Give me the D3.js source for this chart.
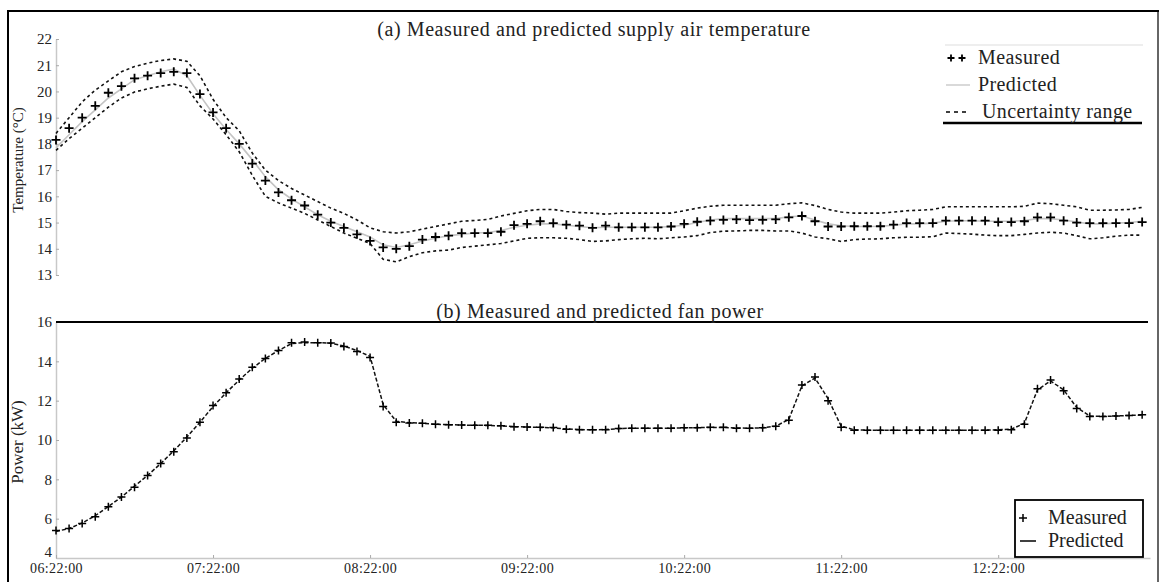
<!DOCTYPE html>
<html>
<head>
<meta charset="utf-8">
<script src="https://cdn.jsdelivr.net/npm/d3@7"></script>
<style>
  body { margin: 0; background: #fff; }
  svg text { font-family: "Liberation Serif", "DejaVu Serif", serif; fill: #222; }
</style>
</head>
<body>
<div id="chart"></div>
<script>
// Sample times (minutes after 06:22:00, one sample every 5 min)
const minutes = d3.range(0, 420, 5);

const tickMinutes = [0, 60, 120, 180, 240, 300, 360];
const tickLabels = ["06:22:00", "07:22:00", "08:22:00", "09:22:00", "10:22:00", "11:22:00", "12:22:00"];

const tempTicks = [13, 14, 15, 16, 17, 18, 19, 20, 21, 22];
const powerTicks = [4, 6, 8, 10, 12, 14, 16];

// (a) supply air temperature, degC
const tempMeasured = [
  18.15, 18.6, 19.0, 19.45, 19.95, 20.2, 20.5, 20.6, 20.7, 20.75,
  20.7, 19.9, 19.2, 18.6, 18.0, 17.25, 16.6, 16.15, 15.85, 15.65,
  15.3, 15.0, 14.8, 14.55, 14.3, 14.05, 14.0, 14.1, 14.35, 14.45,
  14.5, 14.6, 14.6, 14.6, 14.65, 14.9, 14.95, 15.05, 14.98, 14.92,
  14.88, 14.8, 14.88, 14.82, 14.82, 14.82, 14.82, 14.85, 14.95, 15.03,
  15.07, 15.1, 15.12, 15.09, 15.1, 15.12, 15.2, 15.25, 15.05, 14.85,
  14.85, 14.86, 14.86, 14.86, 14.92, 14.98, 14.98, 14.98, 15.07, 15.07,
  15.07, 15.07, 15.02, 15.02, 15.05, 15.2, 15.2, 15.07, 15.0, 14.98,
  14.98, 14.98, 14.98, 15.02
];
const tempPredicted = [
  17.85, 18.35, 18.85, 19.3, 19.75, 20.1, 20.45, 20.6, 20.75, 20.85,
  20.6, 19.85, 19.15, 18.55, 18.0, 17.4, 16.75, 16.25, 15.9, 15.6,
  15.3, 15.05, 14.85, 14.65, 14.45, 14.15, 14.05, 14.15, 14.3, 14.4,
  14.5, 14.55, 14.6, 14.62, 14.7, 14.82, 14.9, 14.95, 14.95, 14.9,
  14.85, 14.8, 14.82, 14.82, 14.82, 14.82, 14.82, 14.85, 14.9, 15.0,
  15.1, 15.15, 15.15, 15.15, 15.15, 15.15, 15.22, 15.25, 15.1, 14.95,
  14.88, 14.85, 14.85, 14.86, 14.9, 14.95, 14.95, 14.98, 15.05, 15.07,
  15.07, 15.05, 15.05, 15.05, 15.08, 15.15, 15.15, 15.1, 15.02, 14.95,
  14.95, 14.98, 15.0, 15.05
];
const tempUpper = [
  18.4, 19.0, 19.6, 20.05, 20.4, 20.75, 20.95, 21.08, 21.18, 21.24,
  21.15, 20.6, 19.7, 19.0, 18.5, 17.65, 17.0, 16.6, 16.3, 16.05,
  15.8, 15.55, 15.35, 15.1, 14.8, 14.65, 14.6, 14.65, 14.75, 14.85,
  14.95, 15.05, 15.08, 15.12, 15.25, 15.35, 15.45, 15.5, 15.5, 15.42,
  15.38, 15.36, 15.32, 15.36, 15.36, 15.36, 15.36, 15.36, 15.45, 15.55,
  15.62, 15.66, 15.66, 15.66, 15.66, 15.66, 15.72, 15.75, 15.65, 15.5,
  15.4, 15.36, 15.36, 15.36, 15.4, 15.45, 15.47, 15.5, 15.6, 15.6,
  15.6, 15.6, 15.6, 15.6, 15.62, 15.74, 15.72, 15.66, 15.6, 15.47,
  15.47, 15.48, 15.5, 15.58
];
const tempLower = [
  17.75, 18.2, 18.6, 19.0, 19.4, 19.75, 19.98, 20.1, 20.2, 20.28,
  20.15, 19.45, 18.95, 18.35, 17.7, 16.8, 16.0, 15.75, 15.55, 15.35,
  15.1, 14.85, 14.6, 14.4, 14.2, 13.6, 13.5, 13.7, 13.85, 13.92,
  13.95, 14.05, 14.1, 14.15, 14.2, 14.3, 14.4, 14.42, 14.42, 14.4,
  14.35, 14.28, 14.3, 14.35, 14.38, 14.4, 14.38, 14.42, 14.45, 14.5,
  14.62, 14.67, 14.68, 14.7, 14.7, 14.68, 14.68, 14.6, 14.45, 14.38,
  14.28, 14.35, 14.37, 14.38, 14.42, 14.44, 14.44, 14.46, 14.6, 14.58,
  14.56, 14.52, 14.5, 14.5, 14.55, 14.6, 14.63, 14.6, 14.5, 14.38,
  14.42, 14.48, 14.52, 14.52
];

// (b) fan power, kW
const powerMeasured = [
  5.4, 5.5, 5.75, 6.1, 6.6, 7.1, 7.6, 8.2, 8.8, 9.4,
  10.1, 10.9, 11.75, 12.4, 13.1, 13.7, 14.15, 14.55, 14.95, 14.98,
  14.95, 14.93, 14.75, 14.5, 14.2, 11.7, 10.9, 10.87, 10.85, 10.8,
  10.78, 10.76, 10.75, 10.75, 10.72, 10.68, 10.66, 10.65, 10.63, 10.55,
  10.52, 10.52, 10.52, 10.58, 10.6, 10.6, 10.6, 10.6, 10.62, 10.62,
  10.65, 10.65, 10.6, 10.6, 10.62, 10.7, 11.0, 12.8, 13.2, 12.0,
  10.65, 10.5, 10.5, 10.5, 10.5, 10.5, 10.5, 10.5, 10.5, 10.5,
  10.5, 10.5, 10.5, 10.52, 10.8, 12.6, 13.05, 12.5, 11.6, 11.2,
  11.2, 11.22, 11.25, 11.28
];
const powerPredicted = [
  5.35, 5.5, 5.78, 6.15, 6.62, 7.1, 7.65, 8.2, 8.8, 9.45,
  10.15, 10.9, 11.7, 12.4, 13.05, 13.65, 14.15, 14.55, 14.9, 14.95,
  14.95, 14.92, 14.78, 14.55, 14.25, 11.8, 10.95, 10.88, 10.85, 10.8,
  10.78, 10.76, 10.75, 10.74, 10.72, 10.68, 10.66, 10.64, 10.62, 10.56,
  10.53, 10.52, 10.53, 10.58, 10.6, 10.6, 10.6, 10.6, 10.62, 10.63,
  10.64, 10.64, 10.61, 10.6, 10.62, 10.7, 11.05, 12.75, 13.15, 12.1,
  10.7, 10.52, 10.5, 10.5, 10.5, 10.5, 10.5, 10.5, 10.5, 10.5,
  10.5, 10.5, 10.52, 10.55, 10.85, 12.55, 13.0, 12.55, 11.65, 11.22,
  11.2, 11.22, 11.25, 11.27
];

// Dimensions
const width = 1163, height = 582;

const svg = d3.select("#chart")
  .append("svg")
  .attr("width", width)
  .attr("height", height);

// outer frame
svg.append("path")
  .attr("d", "M8,600V11H1158V600")
  .attr("fill", "none")
  .attr("stroke", "#000")
  .attr("stroke-width", 2);
svg.append("line")
  .attr("x1", 1158).attr("x2", 1158).attr("y1", 12).attr("y2", 600)
  .attr("stroke", "#888").attr("stroke-width", 1.5);

// Scales
const x = d3.scaleLinear().domain([0, 418]).range([56, 1150]);
const yT = d3.scaleLinear().domain([13, 22]).range([275, 39]);
const yP = d3.scaleLinear().domain([4, 16]).range([558, 322]);

const plus = s => `M${-s},0H${s}M0,${-s}V${s}`;

function styleAxis(g) {
  g.select(".domain").attr("stroke", "#c8c8c8").attr("stroke-width", 1.5);
  g.selectAll(".tick line").attr("stroke", "#aaa");
  g.selectAll(".tick text").attr("fill", "#333").style("font-size", "15px");
}

// ---------- (a) temperature ----------
svg.append("g")
  .attr("transform", `translate(${x(0)},0)`)
  .call(d3.axisLeft(yT).tickValues(tempTicks).tickFormat(d3.format("d"))
    .tickSizeInner(-3).tickSizeOuter(0).tickPadding(4))
  .call(styleAxis);

svg.append("text")
  .attr("transform", "translate(23,160) rotate(-90)")
  .attr("text-anchor", "middle")
  .style("font-size", "15px")
  .text("Temperature (°C)");

svg.append("text")
  .attr("x", 594).attr("y", 36)
  .attr("text-anchor", "middle")
  .style("font-size", "20px")
  .style("letter-spacing", "0.6px")
  .text("(a) Measured and predicted supply air temperature");

const lineT = data => d3.line()
  .x((d, i) => x(minutes[i]))
  .y(d => yT(d))(data);

svg.append("path")
  .attr("d", lineT(tempPredicted))
  .attr("fill", "none")
  .attr("stroke", "#c4c4c4")
  .attr("stroke-width", 1.6);

[tempUpper, tempLower].forEach(s => {
  svg.append("path")
    .attr("d", lineT(s))
    .attr("fill", "none")
    .attr("stroke", "#111")
    .attr("stroke-width", 1.6)
    .attr("stroke-dasharray", "3,3");
});

svg.append("g")
  .selectAll("path")
  .data(tempMeasured)
  .enter()
  .append("path")
  .attr("transform", (d, i) => `translate(${x(minutes[i])},${yT(d)})`)
  .attr("d", plus(4.5))
  .attr("stroke", "#000")
  .attr("stroke-width", 1.8);

// legend (a)
const legA = svg.append("g");
legA.append("line").attr("x1", 945).attr("x2", 1143).attr("y1", 45).attr("y2", 45)
  .attr("stroke", "#ddd").attr("stroke-width", 1.2);
legA.append("line").attr("x1", 943).attr("x2", 1142).attr("y1", 123).attr("y2", 123)
  .attr("stroke", "#000").attr("stroke-width", 2.5);
[951, 962].forEach(px => {
  legA.append("path").attr("transform", `translate(${px},58)`).attr("d", plus(3.5))
    .attr("stroke", "#000").attr("stroke-width", 1.8);
});
legA.append("line").attr("x1", 946).attr("x2", 970).attr("y1", 85).attr("y2", 85)
  .attr("stroke", "#ccc").attr("stroke-width", 1.5);
legA.append("line").attr("x1", 946).attr("x2", 966).attr("y1", 112).attr("y2", 112)
  .attr("stroke", "#000").attr("stroke-width", 1.6).attr("stroke-dasharray", "4,4");
const legAText = ["Measured", "Predicted", "Uncertainty range"];
legA.selectAll("text")
  .data(legAText)
  .enter()
  .append("text")
  .attr("x", (d, i) => i === 2 ? 982 : 978)
  .attr("y", (d, i) => 64 + i * 27)
  .style("font-size", "20px")
  .style("letter-spacing", "0.4px")
  .text(d => d);

// ---------- (b) fan power ----------
svg.append("g")
  .attr("transform", `translate(${x(0)},0)`)
  .call(d3.axisLeft(yP).tickValues(powerTicks).tickFormat(d3.format("d"))
    .tickSizeInner(-3).tickSizeOuter(0).tickPadding(4))
  .call(styleAxis)
  .call(g => g.selectAll(".tick text").filter(d => d === 4).attr("dy", "-0.1em"));

svg.append("g")
  .attr("transform", `translate(0,${yP(4)})`)
  .call(d3.axisBottom(x).tickValues(tickMinutes).tickFormat((d, i) => tickLabels[i])
    .tickSizeInner(-3).tickSizeOuter(0).tickPadding(5))
  .call(styleAxis)
  .call(g => g.selectAll(".tick text").style("font-size", "14px").style("letter-spacing", "0.4px"));

svg.append("line")
  .attr("x1", x(0)).attr("x2", 1148)
  .attr("y1", yP(16)).attr("y2", yP(16))
  .attr("stroke", "#000").attr("stroke-width", 2);

svg.append("text")
  .attr("transform", "translate(23,442) rotate(-90)")
  .attr("text-anchor", "middle")
  .style("font-size", "17px")
  .text("Power (kW)");

svg.append("text")
  .attr("x", 600).attr("y", 318)
  .attr("text-anchor", "middle")
  .style("font-size", "20px")
  .style("letter-spacing", "0.6px")
  .text("(b) Measured and predicted fan power");

svg.append("path")
  .attr("d", d3.line().x((d, i) => x(minutes[i])).y(d => yP(d))(powerPredicted))
  .attr("fill", "none")
  .attr("stroke", "#111")
  .attr("stroke-width", 1.5)
  .attr("stroke-dasharray", "4,2");

svg.append("g")
  .selectAll("path")
  .data(powerMeasured)
  .enter()
  .append("path")
  .attr("transform", (d, i) => `translate(${x(minutes[i])},${yP(d)})`)
  .attr("d", plus(4))
  .attr("stroke", "#000")
  .attr("stroke-width", 1.5);

// legend (b)
const legB = svg.append("g");
legB.append("rect")
  .attr("x", 1015).attr("y", 500).attr("width", 128).attr("height", 57)
  .attr("fill", "#fff").attr("stroke", "#000").attr("stroke-width", 1.8);
legB.append("path").attr("transform", "translate(1023,518)").attr("d", plus(4))
  .attr("stroke", "#000").attr("stroke-width", 1.5);
legB.append("line").attr("x1", 1020).attr("x2", 1036).attr("y1", 541).attr("y2", 541)
  .attr("stroke", "#000").attr("stroke-width", 1.5);
const legBText = ["Measured", "Predicted"];
legB.selectAll("text")
  .data(legBText)
  .enter()
  .append("text")
  .attr("x", 1048)
  .attr("y", (d, i) => 524 + i * 23)
  .style("font-size", "20px")
  .text(d => d);
</script>
</body>
</html>
